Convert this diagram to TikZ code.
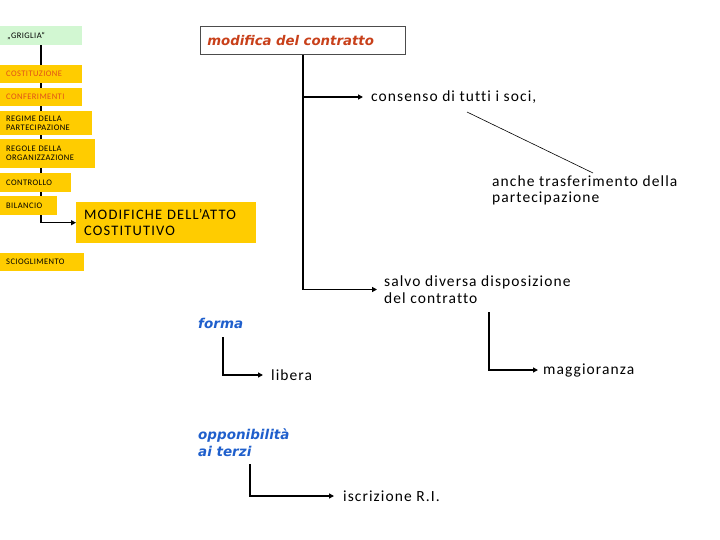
\documentclass[tikz,border=0pt]{standalone}
\usepackage{fontspec}
\setmainfont{Carlito}[Ligatures={NoCommon}]
\newfontfamily\verd{DejaVu Sans}
\usetikzlibrary{arrows.meta,backgrounds}
\definecolor{gold}{HTML}{FFCC00}
\definecolor{mint}{HTML}{D2F7D2}
\definecolor{orng}{HTML}{E0501A}
\definecolor{redo}{HTML}{C8401A}
\definecolor{blu}{HTML}{1F5FCC}
\tikzset{
  x=1pt, y=-1pt,
  sbox/.style={draw=none, fill=gold, anchor=north west, inner xsep=6pt, inner ysep=0pt,
    align=left, font=\fontsize{8.5}{9}\selectfont\addfontfeature{LetterSpace=5}},
  lbl/.style={anchor=west, inner sep=0pt, align=left,
    font=\fontsize{15.5}{16.5}\selectfont\addfontfeature{LetterSpace=7}},
  conn/.style={line width=1.6pt, -{Triangle[length=5pt,width=5pt]}},
  plain/.style={line width=1.6pt},
  blulbl/.style={anchor=west, inner sep=0pt, align=left, text=blu,
    font=\verd\bfseries\itshape\fontsize{13.5}{17}\selectfont},
}
\begin{document}
\begin{tikzpicture}
\useasboundingbox (0,0) rectangle (720,540);
% left column
\node[sbox, fill=mint, minimum width=82pt, minimum height=19pt, text width=68pt, inner xsep=7pt] (griglia) at (0,26) {„GRIGLIA“};
\node[sbox, minimum width=82pt, minimum height=18pt, text width=70pt, text=orng] (cost) at (0,65) {COSTITUZIONE};
\node[sbox, minimum width=82pt, minimum height=18pt, text width=70pt, text=orng] (conf) at (0,88) {CONFERIMENTI};
\node[sbox, minimum width=92pt, minimum height=24pt, text width=80pt] (regime) at (0,111) {REGIME DELLA\\PARTECIPAZIONE};
\node[sbox, minimum width=95pt, minimum height=29pt, text width=83pt] (regole) at (0,139) {REGOLE DELLA\\ORGANIZZAZIONE};
\node[sbox, minimum width=71pt, minimum height=19pt, text width=59pt] (contr) at (0,173) {CONTROLLO};
\node[sbox, minimum width=57pt, minimum height=19pt, text width=45pt] (bil) at (0,196) {BILANCIO};
\node[sbox, minimum width=176pt, minimum height=41pt, text width=164pt, inner xsep=8pt,
  font=\fontsize{14.5}{16}\selectfont\addfontfeature{LetterSpace=8}] (modif) at (76,202) {MODIFICHE DELL’ATTO\\COSTITUTIVO};
\node[sbox, minimum width=84pt, minimum height=18pt, text width=72pt] (sciog) at (0,253) {SCIOGLIMENTO};
\coordinate (spend) at (griglia.south |- bil.south);
\begin{scope}[on background layer]
\draw[plain] (griglia.south) -- (spend);
\end{scope}
\draw[conn] (spend) |- (modif.west);
% top
\node[draw=black!70, line width=0.6pt, anchor=north west, minimum width=205pt, minimum height=28pt,
  inner xsep=7pt, text width=191pt, align=left, text=redo,
  font=\verd\bfseries\itshape\fontsize{13.3}{15}\selectfont] (modcon) at (200,26) {modifica del contratto};
\node[lbl, inner xsep=8pt] (cons) at (363,97) {consenso di tutti i soci,};
\node[lbl] (anche) at (492,190.5) {anche trasferimento della\\partecipazione};
\node[lbl, inner xsep=7pt] (salvo) at (377,289.5) {salvo diversa disposizione\\del contratto};
\node[lbl, inner xsep=5pt] (magg) at (538,370) {maggioranza};
\node[blulbl] (forma) at (198,323) {forma};
\node[lbl, inner xsep=8pt] (lib) at (263,375) {libera};
\node[blulbl] (opp) at (198,442.5) {opponibilità\\ai terzi};
\node[lbl, inner xsep=9pt] (iscr) at (334,496) {iscrizione R.I.};
% connectors
\draw[conn] (modcon.south) |- (salvo.west);
\draw[conn] (modcon.south |- cons.west) -- (cons.west);
\coordinate (t1) at (467,112);
\coordinate (t2) at (593,173);
\draw[line width=0.6pt] (t1) -- (t2);
\coordinate (s1) at (489,312);
\draw[conn] (s1) |- (magg.west);
\coordinate (f1) at (223,337);
\draw[conn] (f1) |- (lib.west);
\coordinate (o1) at (250,464);
\draw[conn] (o1) |- (iscr.west);
\end{tikzpicture}
\end{document}
